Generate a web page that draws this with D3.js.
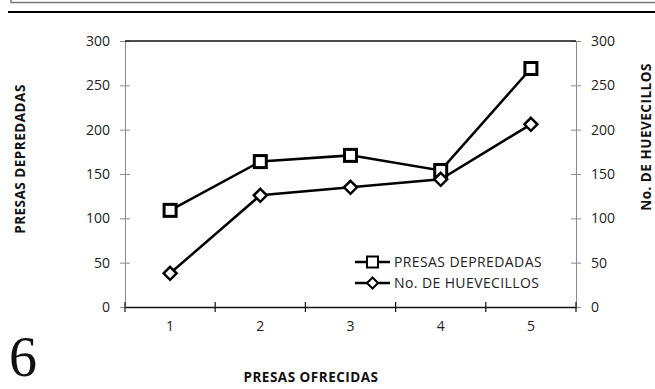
<!DOCTYPE html>
<html><head><meta charset="utf-8">
<script src="https://cdn.jsdelivr.net/npm/d3@7"></script>
<style>body{margin:0;background:#fff}svg{display:block}</style>
</head><body>
<script>
const categories = ["1","2","3","4","5"];
const presasDepredadas = [109, 164, 171, 154, 269];
const huevecillos = [38, 126, 135, 144, 206];
const yTicks = [0, 50, 100, 150, 200, 250, 300];
const seriesNames = ["PRESAS DEPREDADAS", "No. DE HUEVECILLOS"];

(function(){
const W = 655, H = 389;
const svg = d3.select("body").append("svg").attr("width", W).attr("height", H);
const pLeft = 125, pRight = 576, pTop = 41, pBottom = 307;
const x = d3.scaleBand().domain(categories).range([pLeft, pRight]);
const y = d3.scaleLinear().domain([0, 300]).range([pBottom, pTop]);
const y2 = d3.scaleLinear().domain([0, 300]).range([pBottom, pTop]);
const font = "'Open Sans', sans-serif";

// top decorations
svg.append("path").attr("d", "M11,0 V2.5 H655").attr("fill","none").attr("stroke","#777").attr("stroke-width",1.5);
svg.append("line").attr("x1",8).attr("x2",655).attr("y1",12).attr("y2",12).attr("stroke","#000").attr("stroke-width",2);

// left axis
const gl = svg.append("g").attr("transform", `translate(${pLeft},0)`)
  .call(d3.axisLeft(y).tickValues(yTicks).tickSizeInner(5).tickSizeOuter(0).tickPadding(10));
gl.select(".domain").attr("stroke","#8c8c8c");
gl.selectAll(".tick line").attr("stroke","#8c8c8c").attr("x2",-5).attr("x1",5);
gl.selectAll("text").attr("font-family",font).attr("font-size",14).attr("fill","#222");

// right axis
const gr = svg.append("g").attr("transform", `translate(${pRight},0)`)
  .call(d3.axisRight(y2).tickValues(yTicks).tickSizeInner(5).tickSizeOuter(0).tickPadding(10));
gr.select(".domain").attr("stroke","#8c8c8c");
gr.selectAll(".tick line").attr("stroke","#8c8c8c").attr("x1",-5).attr("x2",5);
gr.selectAll("text").attr("font-family",font).attr("font-size",14).attr("fill","#222");

// top border
svg.append("line").attr("x1",pLeft).attr("x2",pRight).attr("y1",y(300)).attr("y2",y(300)).attr("stroke","#111").attr("stroke-width",1.3);

// bottom axis
const gb = svg.append("g").attr("transform", `translate(0,${pBottom})`)
  .call(d3.axisBottom(x).tickSize(0).tickPadding(14));
gb.select(".domain").attr("stroke","#111").attr("stroke-width",1.3);
gb.selectAll("text").attr("font-family",font).attr("font-size",14).attr("fill","#222");
const bounds = categories.map(c => x(c)).concat([pRight]);
gb.selectAll(".btick").data(bounds).enter().append("line")
  .attr("x1", d=>d).attr("x2", d=>d).attr("y1",-5).attr("y2",5).attr("stroke","#111").attr("stroke-width",1.2);

const cx = c => x(c) + x.bandwidth()/2;
const line1 = d3.line().x((d,i)=>cx(categories[i])).y(d=>y(d));
const line2 = d3.line().x((d,i)=>cx(categories[i])).y(d=>y2(d));

svg.append("path").attr("d", line2(huevecillos)).attr("fill","none").attr("stroke","#000").attr("stroke-width",2.5);
svg.append("path").attr("d", line1(presasDepredadas)).attr("fill","none").attr("stroke","#000").attr("stroke-width",2.5);

const sq = 12;
svg.selectAll(".sq").data(presasDepredadas).enter().append("rect")
  .attr("x",(d,i)=>cx(categories[i])-sq/2).attr("y",d=>y(d)-sq/2).attr("width",sq).attr("height",sq)
  .attr("fill","#fff").attr("stroke","#000").attr("stroke-width",3);
const dm = 6.5;
const diamond = (px,py,r) => `M${px},${py-r}L${px+r},${py}L${px},${py+r}L${px-r},${py}Z`;
svg.selectAll(".dm").data(huevecillos).enter().append("path")
  .attr("d",(d,i)=>diamond(cx(categories[i]), y2(d), dm))
  .attr("fill","#fff").attr("stroke","#000").attr("stroke-width",2.5);

// legend
const lg = svg.append("g");
const ly = [262, 283];
seriesNames.forEach((name,i)=>{
  lg.append("line").attr("x1",355).attr("x2",390).attr("y1",ly[i]).attr("y2",ly[i]).attr("stroke","#000").attr("stroke-width",2.5);
  if(i===0){
    lg.append("rect").attr("x",372.5-5.5).attr("y",ly[i]-5.5).attr("width",11).attr("height",11).attr("fill","#fff").attr("stroke","#000").attr("stroke-width",2);
  } else {
    lg.append("path").attr("d",diamond(372.5, ly[i], 5.5)).attr("fill","#fff").attr("stroke","#000").attr("stroke-width",2);
  }
  lg.append("text").attr("x",394).attr("y",ly[i]+5).attr("font-family",font).attr("font-size",14)
    .attr("letter-spacing",0.4).attr("fill","#222").text(name);
});

// axis titles
const tstyle = s => s.attr("text-anchor","middle").attr("font-family",font).attr("font-weight","bold")
  .attr("font-size",13.5).attr("letter-spacing",0.5).attr("fill","#111");
svg.append("text").attr("transform","translate(25,159) rotate(-90)").call(tstyle).text("PRESAS  DEPREDADAS");
svg.append("text").attr("transform","translate(651,137) rotate(-90)").call(tstyle).text("No.  DE HUEVECILLOS");
svg.append("text").attr("x",311).attr("y",382).call(tstyle).text("PRESAS  OFRECIDAS");

svg.append("text").attr("x",9).attr("y",376).attr("font-family","'Liberation Serif', serif").attr("font-size",56).attr("fill","#111").text("6");
})();
</script>
</body></html>
